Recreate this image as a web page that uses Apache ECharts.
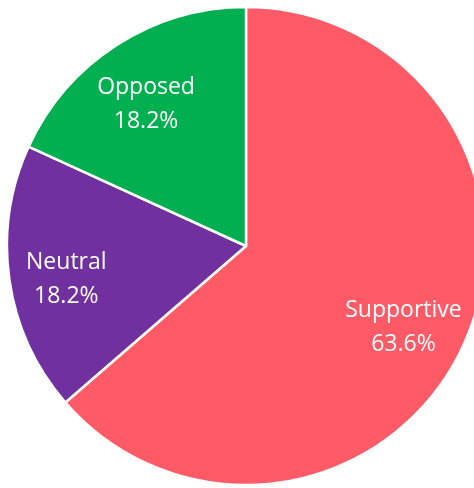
<!DOCTYPE html>
<html>
<head>
<meta charset="utf-8">
<script src="https://cdn.jsdelivr.net/npm/echarts@6/dist/echarts.min.js"></script>
<style>
  html, body { margin: 0; padding: 0; background: #fff; }
  #pie { width: 474px; height: 488px; }
</style>
</head>
<body>
<div id="pie"></div>
<script>
var categories = ['Supportive', 'Neutral', 'Opposed'];
var counts = [7, 2, 2];
var colors = ['#FF5A65', '#7030A0', '#00B050'];

var pieData = categories.map(function (name, i) {
    return { name: name, value: counts[i], itemStyle: { color: colors[i] } };
});

var myChart = echarts.init(document.getElementById('pie'));
myChart.setOption({
    animation: false,
    series: [
        {
            // the slices
            type: 'pie',
            center: [246, 246],
            radius: [0, 239],
            startAngle: 90,
            clockwise: true,
            silent: true,
            itemStyle: { borderColor: '#fff', borderWidth: 2.5 },
            label: { show: false },
            labelLine: { show: false },
            data: pieData
        },
        {
            // transparent ring, only here to put the labels further out
            type: 'pie',
            center: [246, 246],
            radius: [110, 239],
            startAngle: 90,
            clockwise: true,
            silent: true,
            itemStyle: { color: 'rgba(0,0,0,0)' },
            label: {
                show: true,
                position: 'inner',
                color: '#fff',
                fontFamily: 'Open Sans',
                fontSize: 23,
                lineHeight: 34,
                offset: [-4, 8],
                formatter: function (p) {
                    return p.name + '\n' + p.percent.toFixed(1) + '%';
                }
            },
            labelLine: { show: false },
            data: categories.map(function (name, i) {
                return { name: name, value: counts[i] };
            })
        }
    ]
});
</script>
</body>
</html>
